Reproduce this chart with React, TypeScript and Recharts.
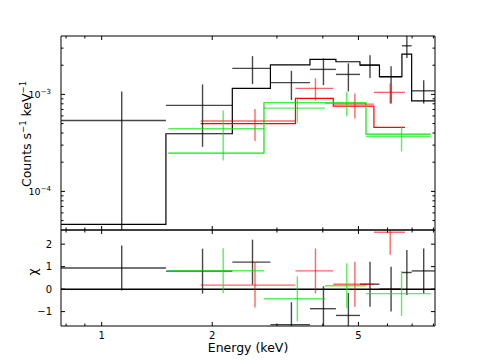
import { ComposedChart, Scatter, Line, XAxis, YAxis, ErrorBar, ReferenceLine } from 'recharts';

// energy axis (keV, log)
const X_DOMAIN = [0.775, 8.08];
const X_TICKS = [0.8, 0.9, 1, 2, 3, 4, 5, 6, 7, 8];
const X_LABELS = [1, 2, 5];

// counts axis (log)
const Y_DOMAIN = [4e-5, 4e-3];
const Y_TICKS = [5e-5, 6e-5, 7e-5, 8e-5, 9e-5, 1e-4, 2e-4, 3e-4, 4e-4, 5e-4, 6e-4, 7e-4, 8e-4, 9e-4, 1e-3, 2e-3, 3e-3];
const Y_LABELS: Record<string, string> = { '0.0001': '−4', '0.001': '−3' };

// residual axis
const CHI_DOMAIN = [-1.64, 2.63];
const CHI_TICKS = [-1, 0, 1, 2];

// black spectrum
const blackEdges = [0.772, 1.496, 2.268, 2.88, 3.69, 4.342, 5.048, 5.704, 6.567, 6.98, 8.075];
const blackRate = [5.39e-4, 7.7e-4, 1.853e-3, 1.324e-3, 1.811e-3, 1.607e-3, 2.005e-3, 1.518e-3, 3.17e-3, 1.089e-3];
const blackRateLo = [1e-5, 2.88e-4, 1.277e-3, 8.74e-4, 1.245e-3, 1.074e-3, 1.472e-3, 8.08e-4, 2.37e-3, 8.08e-4];
const blackRateHi = [1.074e-3, 1.268e-3, 2.48e-3, 1.75e-3, 2.35e-3, 2.09e-3, 2.54e-3, 1.945e-3, 3.99e-3, 1.403e-3];
const blackModel = [4.57e-5, 3.93e-4, 1.153e-3, 2.02e-3, 2.3e-3, 2.17e-3, 2.005e-3, 1.526e-3, 2.6e-3, 8.59e-4];
const blackChi = [0.94, 0.8, 1.2, -1.58, -0.87, -1.17, 0.22, 0.0, 0.74, 0.81];

// red spectrum
const redEdges = [1.86, 3.369, 4.27, 5.51, 6.693];
const redRate = [5.31e-4, 1.153e-3, 7.94e-4, 1.049e-3];
const redRateLo = [3.3e-4, 8.63e-4, 5.66e-4, 8.08e-4];
const redRateHi = [7.06e-4, 1.462e-3, 1.024e-3, 1.298e-3];
const redModel = [5.0e-4, 9.09e-4, 7.57e-4, 4.57e-4];
const redChi = [0.18, 0.81, 0.22, 2.53];

// green spectrum
const greenEdges = [1.518, 2.766, 4.053, 5.242, 7.862];
const greenRate = [4.42e-4, 7.22e-4, 8.08e-4, 3.68e-4];
const greenRateLo = [2.08e-4, 5.1e-4, 5.97e-4, 2.58e-4];
const greenRateHi = [6.84e-4, 9.09e-4, 1.064e-3, 4.63e-4];
const greenModel = [2.48e-4, 8.2e-4, 8.2e-4, 3.9e-4];
const greenChi = [0.82, -0.43, 0.15, -0.2];

const FONT = '"DejaVu Sans", sans-serif';

// crosses: bin-width x bars, error y bars, cut at the panel edges
const crossRows = (edges: number[], vals: number[], lo: number[] | null, hi: number[] | null, yDom: number[]) =>
  vals.map((v, i) => {
    const e = (edges[i] + edges[i + 1]) / 2;
    const yLo = lo ? lo[i] : v - 1;
    const yHi = hi ? hi[i] : v + 1;
    return {
      e,
      v,
      ex: [e - Math.max(edges[i], X_DOMAIN[0]), Math.min(edges[i + 1], X_DOMAIN[1]) - e],
      ey: [v - Math.max(yLo, yDom[0]), Math.min(yHi, yDom[1]) - v],
    };
  });

const stepRows = (edges: number[], model: number[]) =>
  edges.map((e, i) => ({ e, v: model[Math.min(i, model.length - 1)] }));

const series = [
  { name: 'black', cross: 'rgba(0,0,0,0.72)', line: '#000000', edges: blackEdges, rate: blackRate, lo: blackRateLo, hi: blackRateHi, model: blackModel, chi: blackChi },
  { name: 'red', cross: 'rgba(255,0,0,0.6)', line: '#ff0000', edges: redEdges, rate: redRate, lo: redRateLo, hi: redRateHi, model: redModel, chi: redChi },
  { name: 'green', cross: 'rgba(0,230,0,0.65)', line: '#00ee00', edges: greenEdges, rate: greenRate, lo: greenRateLo, hi: greenRateHi, model: greenModel, chi: greenChi },
];

const XTick = (props: any) => {
  const { x, y, payload, dir, showLabel } = props;
  const labeled = X_LABELS.includes(payload.value);
  const len = labeled ? 4 : 2.5;
  return (
    <g>
      <line x1={x} x2={x} y1={y} y2={y + dir * len} stroke="#000" strokeWidth={1} />
      {showLabel && labeled && (
        <text x={x} y={y + 12.5} textAnchor="middle" fontSize={10} fontFamily={FONT} fill="#000">
          {payload.value}
        </text>
      )}
    </g>
  );
};

const LogYTick = (props: any) => {
  const { x, y, payload, dir, showLabel } = props;
  const exp = Y_LABELS[String(payload.value)];
  const len = exp ? 4 : 2.5;
  return (
    <g>
      <line x1={x} x2={x + dir * len} y1={y} y2={y} stroke="#000" strokeWidth={1} />
      {showLabel && exp && (
        <text x={x - 10} y={y} dy="0.35em" textAnchor="end" fontSize={9.5} fontFamily={FONT} fill="#000">
          <tspan>10</tspan>
          <tspan dy={-4} fontSize={7}>{exp}</tspan>
        </text>
      )}
    </g>
  );
};

const ChiTick = (props: any) => {
  const { x, y, payload, dir, showLabel } = props;
  const v = payload.value;
  return (
    <g>
      <line x1={x} x2={x + dir * 4} y1={y} y2={y} stroke="#000" strokeWidth={1} />
      {showLabel && (
        <text x={x - 9} y={y} dy="0.35em" textAnchor="end" fontSize={10} fontFamily={FONT} fill="#000">
          {v < 0 ? `−${Math.abs(v)}` : v}
        </text>
      )}
    </g>
  );
};

const noDot = () => <g />;

export default function App() {
  const xCommon = {
    dataKey: 'e',
    type: 'number' as const,
    scale: 'log' as const,
    domain: X_DOMAIN,
    allowDataOverflow: true,
    ticks: X_TICKS,
    interval: 0,
    tickLine: false,
    tickSize: 0,
    tickMargin: 0,
    axisLine: { stroke: '#000', strokeWidth: 1 },
  };

  return (
    <div style={{ position: 'fixed', left: 0, top: 0, width: 485, height: 363, background: '#fff' }}>
      {/* spectrum panel */}
      <div style={{ position: 'absolute', left: 0, top: 0 }}>
        <ComposedChart width={485} height={240} margin={{ top: 0, right: 0, bottom: 0, left: 0 }}>
          <XAxis {...xCommon} xAxisId="b" height={10} tick={<XTick dir={-1} showLabel={false} />} />
          <XAxis {...xCommon} xAxisId="t" orientation="top" height={36} tick={<XTick dir={1} showLabel={false} />} />
          <YAxis yAxisId="l" type="number" scale="log" domain={Y_DOMAIN} allowDataOverflow ticks={Y_TICKS} interval={0}
            tickLine={false} tickSize={0} tickMargin={0} width={61} axisLine={{ stroke: '#000' }}
            tick={<LogYTick dir={1} showLabel />} />
          <YAxis yAxisId="r" orientation="right" type="number" scale="log" domain={Y_DOMAIN} allowDataOverflow ticks={Y_TICKS} interval={0}
            tickLine={false} tickSize={0} tickMargin={0} width={50} axisLine={{ stroke: '#000' }}
            tick={<LogYTick dir={-1} showLabel={false} />} />
          {series.map((s) => (
            <Line key={`m-${s.name}`} xAxisId="b" yAxisId="l" data={stepRows(s.edges, s.model)} dataKey="v" type="stepAfter"
              stroke={s.line} strokeWidth={1.2} dot={false} isAnimationActive={false} />
          ))}
          {series.map((s) => (
            <Scatter key={`d-${s.name}`} xAxisId="b" yAxisId="l" data={crossRows(s.edges, s.rate, s.lo, s.hi, Y_DOMAIN)} dataKey="v"
              shape={noDot} isAnimationActive={false}>
              <ErrorBar dataKey="ex" direction="x" width={0} stroke={s.cross} strokeWidth={1.4} isAnimationActive={false} />
              <ErrorBar dataKey="ey" direction="y" width={0} stroke={s.cross} strokeWidth={1.4} isAnimationActive={false} />
            </Scatter>
          ))}
        </ComposedChart>
      </div>

      {/* residual panel */}
      <div style={{ position: 'absolute', left: 0, top: 220 }}>
        <ComposedChart width={485} height={143} margin={{ top: 0, right: 0, bottom: 0, left: 0 }}>
          <XAxis {...xCommon} xAxisId="b" height={37} tick={<XTick dir={-1} showLabel />} />
          <XAxis {...xCommon} xAxisId="t" orientation="top" height={10} tick={<XTick dir={1} showLabel={false} />} />
          <YAxis yAxisId="l" type="number" domain={CHI_DOMAIN} allowDataOverflow ticks={CHI_TICKS} interval={0}
            tickLine={false} tickSize={0} tickMargin={0} width={61} axisLine={{ stroke: '#000' }}
            tick={<ChiTick dir={1} showLabel />} />
          <YAxis yAxisId="r" orientation="right" type="number" domain={CHI_DOMAIN} allowDataOverflow ticks={CHI_TICKS} interval={0}
            tickLine={false} tickSize={0} tickMargin={0} width={50} axisLine={{ stroke: '#000' }}
            tick={<ChiTick dir={-1} showLabel={false} />} />
          <ReferenceLine xAxisId="b" yAxisId="l" y={0} stroke="#000" strokeWidth={1.5} />
          {series.map((s) => (
            <Scatter key={`r-${s.name}`} xAxisId="b" yAxisId="l" data={crossRows(s.edges, s.chi, null, null, CHI_DOMAIN)} dataKey="v"
              shape={noDot} isAnimationActive={false}>
              <ErrorBar dataKey="ex" direction="x" width={0} stroke={s.cross} strokeWidth={1.4} isAnimationActive={false} />
              <ErrorBar dataKey="ey" direction="y" width={0} stroke={s.cross} strokeWidth={1.4} isAnimationActive={false} />
            </Scatter>
          ))}
        </ComposedChart>
      </div>

      {/* axis titles */}
      <svg width={485} height={363} style={{ position: 'absolute', left: 0, top: 0, pointerEvents: 'none' }}>
        <text x={248} y={352} textAnchor="middle" fontSize={12.5} fontFamily={FONT} fill="#000">Energy (keV)</text>
        <text transform="translate(30.5,134) rotate(-90)" textAnchor="middle" fontSize={12.5} fontFamily={FONT} fill="#000">
          <tspan>Counts s</tspan>
          <tspan dy={-5} fontSize={8.5}>−1</tspan>
          <tspan dy={5}> keV</tspan>
          <tspan dy={-5} fontSize={8.5}>−1</tspan>
        </text>
        <text transform="translate(37,272) rotate(-90)" textAnchor="middle" fontSize={12.5} fontFamily={FONT} fill="#000">χ</text>
      </svg>
    </div>
  );
}
